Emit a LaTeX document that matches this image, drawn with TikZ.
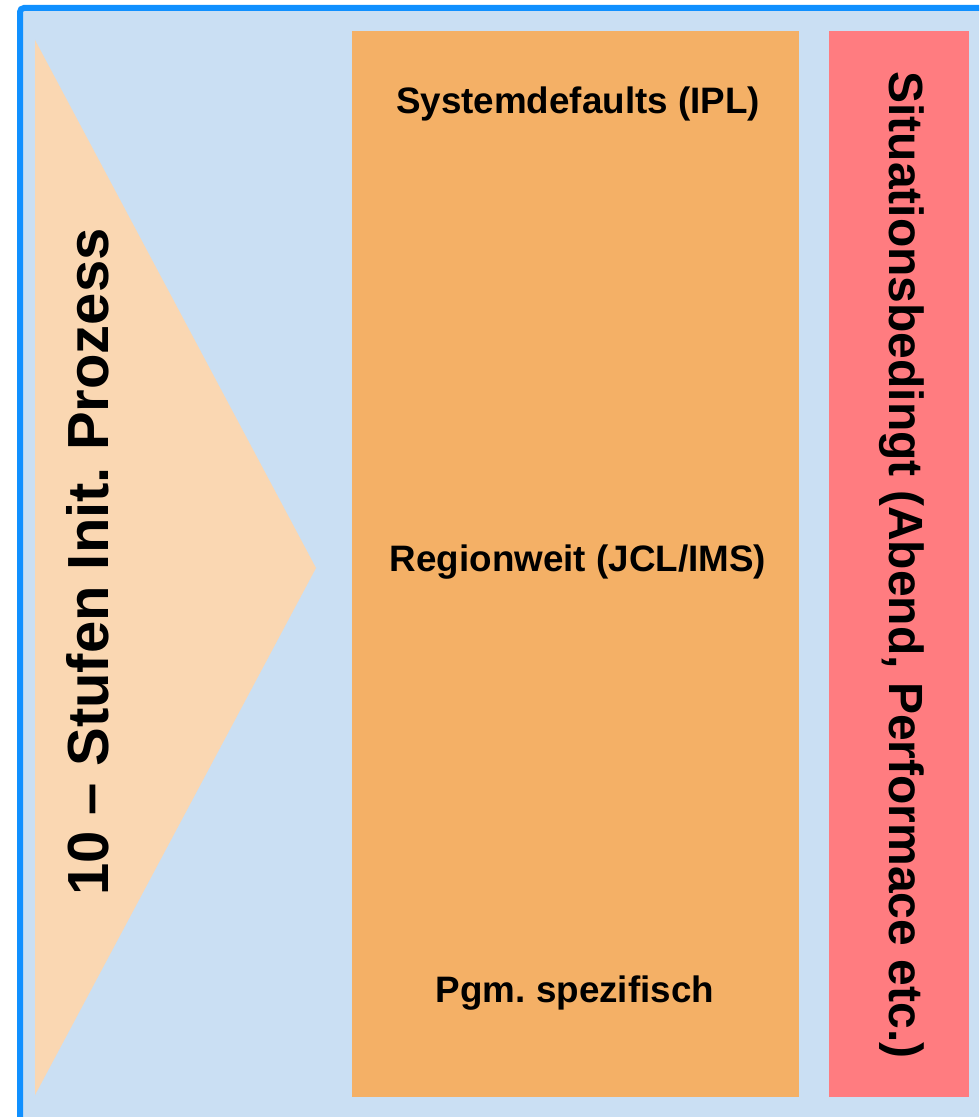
\documentclass[tikz,border=0pt]{standalone}
\usepackage{fontspec}
\setmainfont{Liberation Sans}
\frenchspacing
\definecolor{frameblue}{HTML}{1090FF}
\definecolor{paneblue}{HTML}{CADFF3}
\definecolor{wedgetan}{HTML}{FAD7B2}
\definecolor{layerorange}{HTML}{F4B066}
\definecolor{abendred}{HTML}{FF7C80}
\begin{document}
\begin{tikzpicture}[x=0.5pt,y=-0.5pt]
	\tikzset{
	  LabelStyle/.style = { inner sep=0pt, font = \fontsize{18.4}{20}\selectfont\bfseries },
	  SideStyle/.style = { inner sep=0pt, font = \fontsize{24}{28}\selectfont\bfseries },
	  StageStyle/.style = { inner sep=0pt, font = \fontsize{29}{33}\selectfont\bfseries } }
	\useasboundingbox (0,0) rectangle (979,1117);
	\clip (0,0) rectangle (979,1117);
	\draw[frameblue, fill=paneblue, line width=3pt, rounded corners=2pt] (20,8) rectangle (1010,1150);
	% Stufen-Keil
	\fill[wedgetan] (35,40) -- (316,568) -- (35,1095) -- cycle;
	\node[StageStyle, rotate=90] (stufen) at (88,562) {10 – Stufen Init. Prozess};
	% Ebenen
	\fill[layerorange] (352,31) rectangle (799,1097);
	\node[LabelStyle] (ipl) at (578,104) {Systemdefaults (IPL)};
	\node[LabelStyle] (region) at (578,562) {Regionweit (JCL/IMS)};
	\node[LabelStyle] (pgm) at (575,993) {Pgm. spezifisch};
	% Situationsbedingt
	\fill[abendred] (829,31) rectangle (969,1097);
	\node[SideStyle, rotate=-90] (situation) at (902,565) {Situationsbedingt (Abend, Performace etc.)};
\end{tikzpicture}
\end{document}
